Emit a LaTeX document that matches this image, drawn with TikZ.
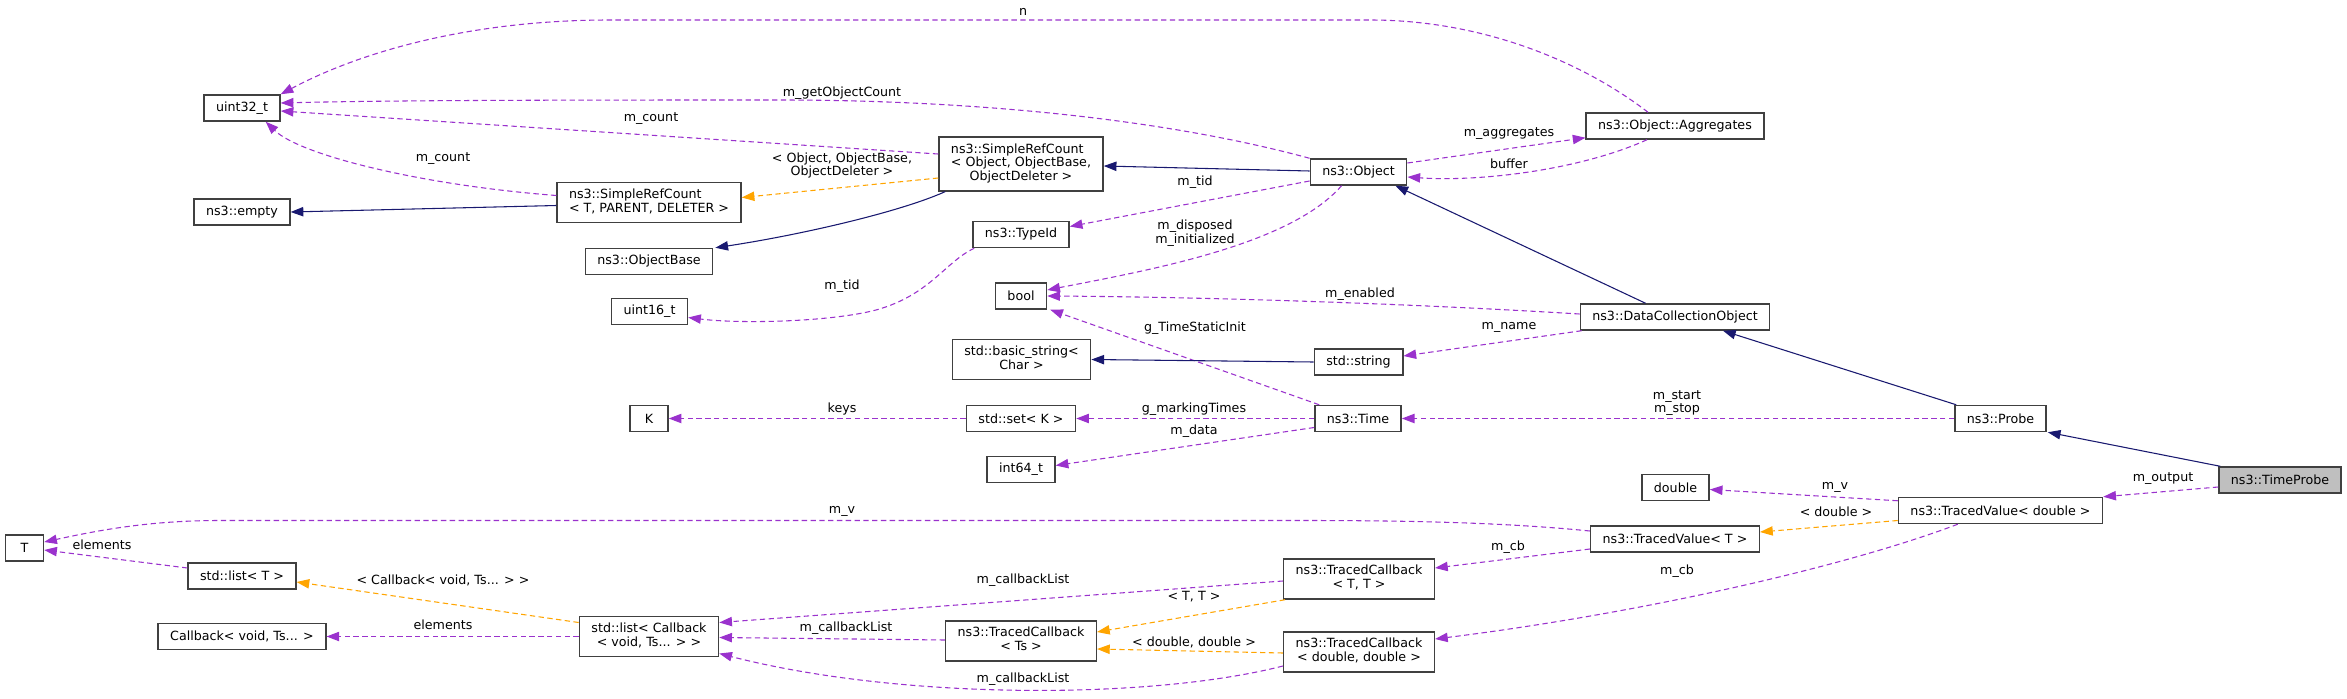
\documentclass[tikz,border=0pt]{standalone}
\usepackage{fontspec}
\setmainfont{DejaVu Sans}
\usetikzlibrary{arrows.meta,calc}
\definecolor{usec}{RGB}{154,50,205}
\definecolor{tmplc}{RGB}{255,165,0}
\definecolor{inhc}{RGB}{25,25,112}
\newcommand\twoc[2]{\begin{tabular}{@{}c@{}}#1\\#2\end{tabular}}
\newcommand\twol[2]{\begin{tabular}{@{}l@{}}#1\\\multicolumn{1}{@{}c@{}}{#2}\end{tabular}}
\newcommand\threel[3]{\begin{tabular}{@{}l@{}}#1\\#2\\\multicolumn{1}{@{}c@{}}{#3}\end{tabular}}
\begin{document}
\begin{tikzpicture}[x=0.75pt,y=-0.75pt,
  cls/.style={draw=black!75, line width=1.1pt, fill=white, inner xsep=9pt, inner ysep=4.7pt,
    minimum height=19.5pt, minimum width=28.5pt, font=\fontsize{9.5}{10.3}\selectfont},
  lbl/.style={inner sep=0pt, font=\fontsize{9.5}{10.3}\selectfont, align=center},
  usage/.style={draw=usec, line width=0.8pt, dash pattern=on 4pt off 2.6pt, -{Triangle[length=9.5pt,width=7pt]}},
  tmpl/.style={draw=tmplc, line width=0.8pt, dash pattern=on 4pt off 2.6pt, -{Triangle[length=9.5pt,width=7pt]}},
  inh/.style={draw=inhc, line width=0.8pt, -{Triangle[length=9.5pt,width=7pt]}}]
\useasboundingbox (0,0) rectangle (2347,699);
\fill[white] (0,0) rectangle (2347,699);

% nodes
\node[cls] (uint32) at (242,108) {uint32\_t};
\node[cls] (empty) at (242,212) {ns3::empty};
\node[cls] (srcT) at (649,202.5) {\twol{ns3::SimpleRefCount}{< T, PARENT, DELETER >}};
\node[cls] (objbase) at (649,261.5) {ns3::ObjectBase};
\node[cls] (uint16) at (649.5,311.5) {uint16\_t};
\node[cls] (srcObj) at (1021,164) {\threel{ns3::SimpleRefCount}{< Object, ObjectBase,}{ObjectDeleter >}};
\node[cls] (Object) at (1358.5,172) {ns3::Object};
\node[cls] (Aggr) at (1675,126) {ns3::Object::Aggregates};
\node[cls] (TypeId) at (1021,234.5) {ns3::TypeId};
\node[cls] (bool) at (1021,296) {bool};
\node[cls] (bstr) at (1021.5,359.5) {\twoc{std::basic\_string<}{Char >}};
\node[cls] (str) at (1358.5,362) {std::string};
\node[cls] (DCO) at (1675,317) {ns3::DataCollectionObject};
\node[cls] (K) at (649,418.5) {K};
\node[cls] (set) at (1021,418.5) {std::set< K >};
\node[cls] (Time) at (1358,418.5) {ns3::Time};
\node[cls] (int64) at (1021,469.5) {int64\_t};
\node[cls] (Probe) at (2000.5,418.5) {ns3::Probe};
\node[cls] (dbl) at (1675.5,487.5) {double};
\node[cls, fill=black!25] (TP) at (2280,480) {ns3::TimeProbe};
\node[cls] (TVd) at (2000.5,510.5) {ns3::TracedValue< double >};
\node[cls] (TVT) at (1675,539) {ns3::TracedValue< T >};
\node[cls] (T) at (24.5,548) {T};
\node[cls] (listT) at (242,576) {std::list< T >};
\node[cls] (Cb) at (242,636.5) {Callback< void, Ts... >};
\node[cls] (listCb) at (649,636.5) {\twoc{std::list< Callback}{< void, Ts... > >}};
\node[cls] (TCTT) at (1359,579) {\twoc{ns3::TracedCallback}{< T, T >}};
\node[cls] (TCTs) at (1021,641) {\twoc{ns3::TracedCallback}{< Ts >}};
\node[cls] (TCdd) at (1359,652) {\twoc{ns3::TracedCallback}{< double, double >}};

% usage edges
\draw[usage] ($(Aggr.north)+(-27,0)$) .. controls (1580,60) and (1480,20) .. (1370,20) -- (610,20) .. controls (470,20) and (360,52) .. (uint32.north east);
\draw[usage] (Object.north west) .. controls (1150,115) and (950,100) .. (780,100) .. controls (600,100) and (400,100) .. ($(uint32.east)+(0,-5)$);
\draw[usage] ($(srcObj.west)+(0,-10)$) -- ($(uint32.east)+(0,3)$);
\draw[usage] ($(srcT.west)+(0,-7)$) .. controls (420,185) and (300,155) .. ($(uint32.south east)+(-15,0)$);
\draw[usage] ($(Object.east)+(0,-9)$) -- ($(Aggr.south west)+(0,-2)$);
\draw[usage] ($(Aggr.south)+(-28,0)$) .. controls (1580,170) and (1480,182) .. ($(Object.east)+(0,5)$);
\draw[usage] ($(Object.west)+(0,9)$) -- ($(TypeId.east)+(0,-8)$);
\draw[usage] ($(Object.south west)+(32,0)$) .. controls (1290,245) and (1150,270) .. ($(bool.east)+(0,-6)$);
\draw[usage] ($(TypeId.south west)+(2,0)$) .. controls (945,262) and (930,295) .. (876,310) .. controls (830,322) and (740,324) .. ($(uint16.east)+(0,6)$);
\draw[usage] ($(DCO.west)+(0,-3)$) .. controls (1400,303) and (1200,297) .. (bool.east);
\draw[usage] ($(Time.north west)+(5,0)$) -- ($(bool.south east)+(3,0)$);
\draw[usage] ($(DCO.south west)+(2,0)$) -- ($(str.east)+(0,-6)$);
\draw[usage] (Probe.west) -- (Time.east);
\draw[usage] (Time.west) -- (set.east);
\draw[usage] (set.west) -- (K.east);
\draw[usage] ($(Time.west)+(0,9)$) -- ($(int64.east)+(0,-4)$);
\draw[usage] ($(TP.west)+(0,7)$) -- (TVd.north east);
\draw[usage] ($(TVd.north west)+(0,4)$) -- ($(dbl.east)+(0,2)$);
\draw[usage] ($(TVT.west)+(0,-8)$) .. controls (1500,522) and (1400,520.5) .. (1300,520.5) -- (220,520.5) .. controls (150,520.5) and (100,530) .. ($(T.east)+(0,-6)$);
\draw[usage] ($(TVd.south west)+(60,0)$) .. controls (1850,565) and (1650,612) .. ($(TCdd.east)+(0,-13)$);
\draw[usage] ($(TVT.west)+(0,10)$) -- ($(TCTT.east)+(0,-11)$);
\draw[usage] ($(TCTT.west)+(0,2)$) -- ($(listCb.east)+(0,-14)$);
\draw[usage] ($(TCTs.west)+(0,-1)$) -- ($(listCb.east)+(0,1)$);
\draw[usage] ($(TCdd.west)+(0,14)$) .. controls (1150,700) and (900,700) .. ($(listCb.east)+(0,17)$);
\draw[usage] ($(listT.west)+(0,-8)$) -- ($(T.east)+(0,2)$);
\draw[usage] (listCb.west) -- (Cb.east);

% template edges
\draw[tmpl] ($(srcObj.west)+(0,14)$) -- ($(srcT.east)+(0,-5)$);
\draw[tmpl] ($(TVd.west)+(0,10)$) -- ($(TVT.east)+(0,-7)$);
\draw[tmpl] ($(listCb.west)+(0,-14)$) -- ($(listT.east)+(0,6)$);
\draw[tmpl] ($(TCTT.south west)+(2,0)$) -- ($(TCTs.east)+(0,-9)$);
\draw[tmpl] ($(TCdd.west)+(0,1)$) -- ($(TCTs.east)+(0,8)$);

% inheritance edges
\draw[inh] ($(srcT.west)+(0,3)$) -- (empty.east);
\draw[inh] ($(srcObj.south west)+(7,0)$) .. controls (900,212) and (800,235) .. ($(objbase.north east)+(2,0)$);
\draw[inh] ($(Object.west)+(0,-1)$) -- ($(srcObj.east)+(0,2)$);
\draw[inh] ($(DCO.north west)+(66,0)$) -- ($(Object.south east)+(-12,0)$);
\draw[inh] ($(Probe.north west)+(2,0)$) -- ($(DCO.south)+(48,0)$);
\draw[inh] ($(TP.north west)+(2,0)$) -- ($(Probe.south east)+(1,0)$);
\draw[inh] (str.west) -- (bstr.east);

% labels
\node[lbl] (l1) at (1023,12) {n};
\node[lbl] (l2) at (842,93) {m\_getObjectCount};
\node[lbl] (l3) at (651,119) {m\_count};
\node[lbl] (l4) at (443,159) {m\_count};
\node[lbl] (l5) at (842,165.5) {< Object, ObjectBase,\\ObjectDeleter >};
\node[lbl] (l6) at (1509,134) {m\_aggregates};
\node[lbl] (l7) at (1509,164) {buffer};
\node[lbl] (l8) at (1195,182) {m\_tid};
\node[lbl] (l9) at (1195,233) {m\_disposed\\m\_initialized};
\node[lbl] (l10) at (842,286) {m\_tid};
\node[lbl] (l11) at (1360,294) {m\_enabled};
\node[lbl] (l12) at (1195,328) {g\_TimeStaticInit};
\node[lbl] (l13) at (1509,327) {m\_name};
\node[lbl] (l14) at (842,409) {keys};
\node[lbl] (l15) at (1194,409) {g\_markingTimes};
\node[lbl] (l16) at (1194,431) {m\_data};
\node[lbl] (l17) at (1677,403) {m\_start\\m\_stop};
\node[lbl] (l18) at (2163,479) {m\_output};
\node[lbl] (l19) at (1835,487) {m\_v};
\node[lbl] (l20) at (1836,512) {< double >};
\node[lbl] (l21) at (842,511) {m\_v};
\node[lbl] (l22) at (1508,547) {m\_cb};
\node[lbl] (l23) at (1677,571) {m\_cb};
\node[lbl] (l24) at (1023,580) {m\_callbackList};
\node[lbl] (l25) at (1194,597) {< T, T >};
\node[lbl] (l26) at (846,628) {m\_callbackList};
\node[lbl] (l27) at (1194,642) {< double, double >};
\node[lbl] (l28) at (1023,679) {m\_callbackList};
\node[lbl] (l29) at (102,545) {elements};
\node[lbl] (l30) at (443,580) {< Callback< void, Ts... > >};
\node[lbl] (l31) at (443,625) {elements};
\end{tikzpicture}
\end{document}
